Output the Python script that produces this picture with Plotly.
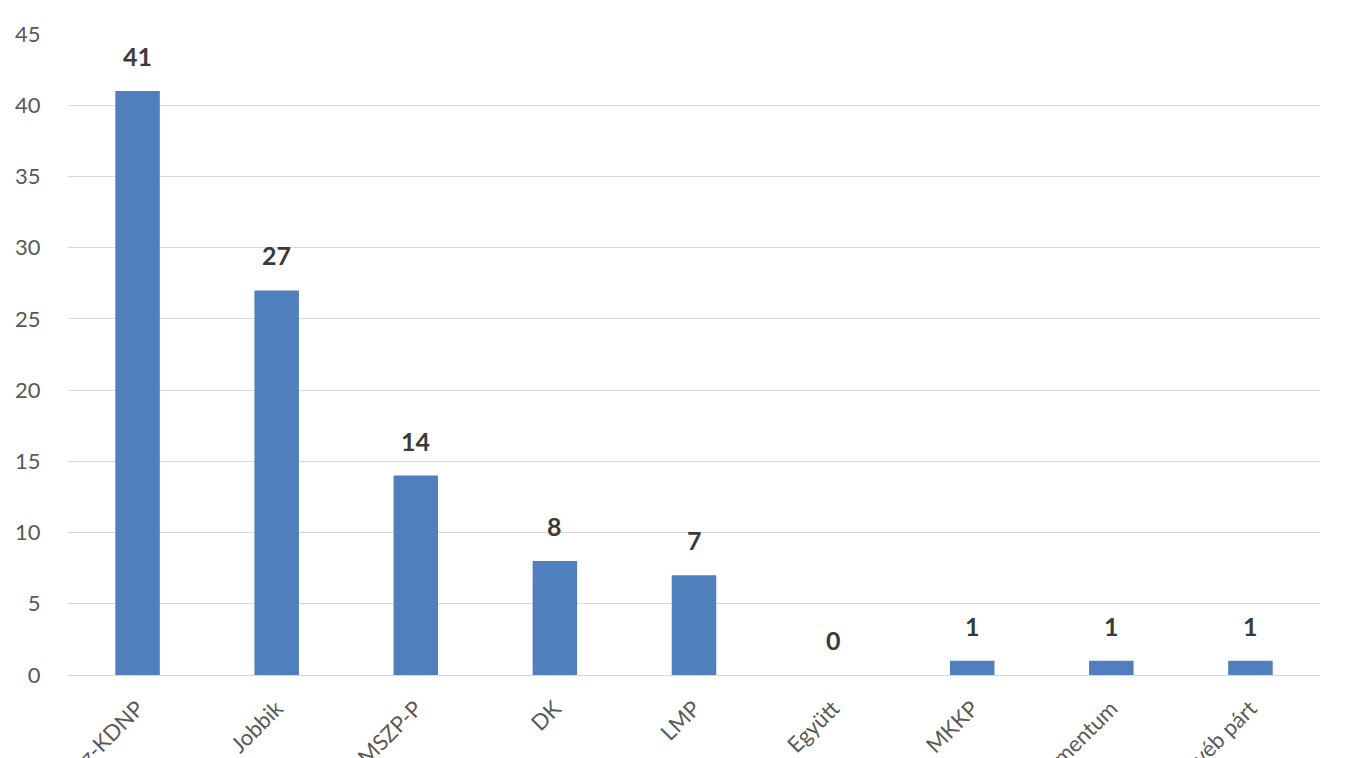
import plotly.graph_objects as go

categories = ["Fidesz-KDNP", "Jobbik", "MSZP-P", "DK", "LMP", "Együtt", "MKKP", "Momentum", "Egyéb párt"]
values = [41, 27, 14, 8, 7, 0, 1, 1, 1]
y_ticks = [0, 5, 10, 15, 20, 25, 30, 35, 40, 45]

FONT = "Lato, 'Open Sans', sans-serif"

fig = go.Figure()
fig.add_trace(go.Bar(
    x=categories, y=values,
    marker=dict(color="#4F7FBC", line=dict(width=0)),
    width=0.32,
    hoverinfo="x+y",
))

for c, v in zip(categories, values):
    fig.add_annotation(
        x=c, y=v, text=f"<b>{v}</b>", showarrow=False,
        yanchor="bottom", yshift=18,
        font=dict(family=FONT, size=25, color="#3a3a3a"),
    )

H = 830
fig.update_layout(
    width=1347, height=H,
    margin=dict(l=68, r=27, t=34, b=H - 675, autoexpand=False),
    paper_bgcolor="white", plot_bgcolor="white",
    showlegend=False,
    xaxis=dict(
        tickangle=-45,
        tickfont=dict(family=FONT, size=22, color="#595959"),
        showgrid=False, showline=True, linecolor="#d9d9d9", linewidth=1,
        ticks="outside", ticklen=11, tickcolor="rgba(0,0,0,0)", range=[-0.5, 8.5],
    ),
    yaxis=dict(
        range=[0, 45], tickvals=y_ticks,
        tickfont=dict(family=FONT, size=22, color="#595959"),
        showgrid=True, gridcolor="#d9d9d9", gridwidth=1,
        zeroline=False, showline=False, ticks="outside", ticklen=22, tickcolor="rgba(0,0,0,0)",
    ),
)

fig.write_html("out.html", config={"displayModeBar": False},
               post_script="document.body.style.margin='0';document.body.style.overflow='hidden';document.documentElement.style.overflow='hidden';")
